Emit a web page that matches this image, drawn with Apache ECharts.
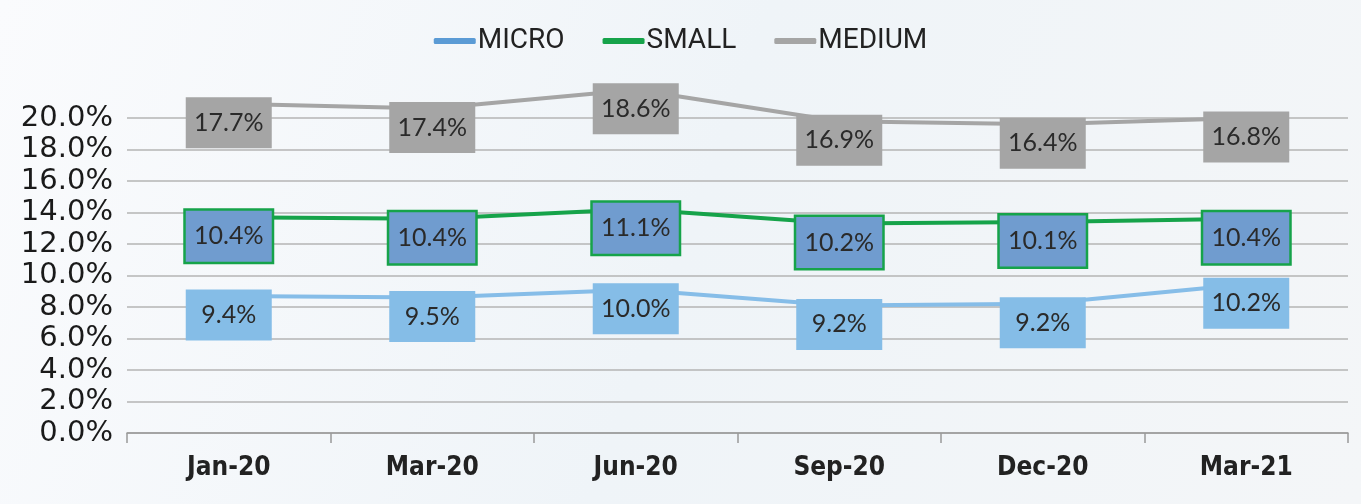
<!DOCTYPE html>
<html>
<head>
<meta charset="utf-8">
<script src="https://cdn.jsdelivr.net/npm/echarts@6/dist/echarts.min.js"></script>
<style>
html,body{margin:0;padding:0;}
#c{width:1361px;height:504px;}
</style>
</head>
<body>
<div id="c"></div>
<script>
const categories = ['Jan-20', 'Mar-20', 'Jun-20', 'Sep-20', 'Dec-20', 'Mar-21'];
const yTicks = [0, 2, 4, 6, 8, 10, 12, 14, 16, 18, 20];
// plotted line positions (as drawn)
const microLine = [8.7, 8.6, 9.1, 8.1, 8.2, 9.45];
const smallLine = [13.7, 13.6, 14.2, 13.3, 13.4, 13.6];
const mediumLine = [20.9, 20.6, 21.8, 19.8, 19.6, 20.0];
// printed data labels
const microLabels = ['9.4%', '9.5%', '10.0%', '9.2%', '9.2%', '10.2%'];
const smallLabels = ['10.4%', '10.4%', '11.1%', '10.2%', '10.1%', '10.4%'];
const mediumLabels = ['17.7%', '17.4%', '18.6%', '16.9%', '16.4%', '16.8%'];

const chart = echarts.init(document.getElementById('c'));

function lbl(texts, bg, border) {
  return {
    show: true,
    position: 'inside',
    offset: [0, 19],
    formatter: p => texts[p.dataIndex],
    fontFamily: 'Lato',
    fontSize: 25,
    color: '#2a2a2a',
    backgroundColor: bg,
    borderColor: border || 'transparent',
    borderWidth: border ? 2.5 : 0,
    width: 70,
    height: 25,
    lineHeight: 25,
    align: 'center',
    verticalAlign: 'middle',
    padding: [13, 8]
  };
}

chart.setOption({
  backgroundColor: new echarts.graphic.LinearGradient(0, 0, 1, 1, [
    {offset: 0, color: '#fafbfd'},
    {offset: 0.5, color: '#eff4f8'},
    {offset: 1, color: '#f4f6f8'}
  ]),
  animation: false,
  legend: {
    top: 22,
    left: 'center',
    itemWidth: 42,
    itemHeight: 6,
    itemGap: 38,
    icon: 'roundRect',
    textStyle: {fontFamily: 'Liberation Sans Narrow, Roboto, sans-serif', fontSize: 28, color: '#222', padding: [0, 0, 0, -3]},
    data: [
      {name: 'MICRO', itemStyle: {color: '#5b9bd5'}},
      {name: 'SMALL', itemStyle: {color: '#16a34a'}},
      {name: 'MEDIUM', itemStyle: {color: '#a5a5a5'}}
    ]
  },
  grid: {left: 127, right: 13, top: 118, bottom: 71},
  xAxis: {
    type: 'category',
    data: categories,
    boundaryGap: true,
    axisLine: {lineStyle: {color: '#999', width: 1.5}},
    axisTick: {show: true, length: 10, lineStyle: {color: '#999', width: 1.5}},
    axisLabel: {fontFamily: 'DejaVu Sans Condensed, DejaVu Sans', fontSize: 26, fontWeight: 'bold', color: '#222', margin: 22}
  },
  yAxis: {
    type: 'value',
    min: 0,
    max: 20,
    interval: 2,
    axisLine: {show: false},
    axisTick: {show: false},
    axisLabel: {
      fontFamily: 'DejaVu Sans', fontSize: 29, color: '#1a1a1a', margin: 14,
      formatter: v => yTicks.includes(v) ? v.toFixed(1) + '%' : ''
    },
    splitLine: {lineStyle: {color: '#b4b4b4', width: 1.5}}
  },
  series: [
    {
      name: 'MICRO', type: 'line', data: microLine, clip: false,
      symbol: 'circle', symbolSize: 0, showSymbol: true,
      lineStyle: {color: '#86bde8', width: 4},
      itemStyle: {color: '#86bde8'},
      label: lbl(microLabels, '#85bde7')
    },
    {
      name: 'SMALL', type: 'line', data: smallLine, clip: false,
      symbol: 'circle', symbolSize: 0, showSymbol: true,
      lineStyle: {color: '#16a34a', width: 4},
      itemStyle: {color: '#16a34a'},
      label: lbl(smallLabels, '#709ccf', '#16a34a')
    },
    {
      name: 'MEDIUM', type: 'line', data: mediumLine, clip: false,
      symbol: 'circle', symbolSize: 0, showSymbol: true,
      lineStyle: {color: '#a5a5a5', width: 4},
      itemStyle: {color: '#a5a5a5'},
      label: lbl(mediumLabels, '#a5a5a5')
    }
  ]
});
</script>
</body>
</html>
